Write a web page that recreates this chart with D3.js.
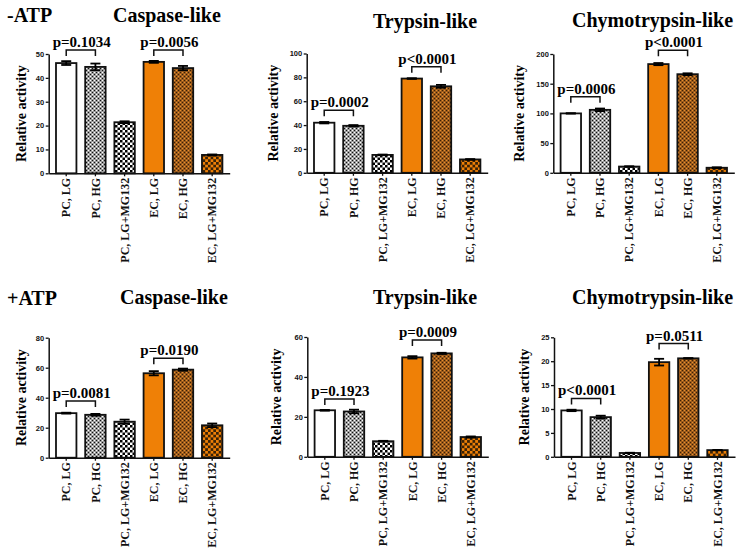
<!DOCTYPE html>
<html><head><meta charset="utf-8">
<script src="https://cdn.jsdelivr.net/npm/d3@7"></script>
<style>body{margin:0;background:#fff}svg{display:block}</style>
</head><body><div id="chart"></div>
<script>
// ---------- data ----------
const categories = ["PC, LG","PC, HG","PC, LG+MG132","EC, LG","EC, HG","EC, LG+MG132"];
const conditionLabels = ["-ATP","+ATP"];
const assayTitles = ["Caspase-like","Trypsin-like","Chymotrypsin-like"];
const yAxisLabel = "Relative activity";

const caspaseMinus    = [46.2, 44.6, 21.4, 46.7, 44.1, 7.7];
const caspaseMinusErr = [0.8, 1.4, 0.4, 0.4, 0.9, 0.2];
const trypsinMinus    = [42.0, 39.4, 15.0, 79.0, 72.5, 11.2];
const trypsinMinusErr = [0.6, 0.6, 0.3, 0.3, 1.2, 0.3];
const chymoMinus      = [100, 106, 10.5, 183, 166, 8.5];
const chymoMinusErr   = [0.2, 2.2, 0.5, 1.8, 1.5, 0.8];
const caspasePlus     = [29.7, 28.6, 24.0, 56.3, 58.7, 21.6];
const caspasePlusErr  = [0.3, 0.6, 1.4, 1.4, 0.7, 1.2];
const trypsinPlus     = [23.3, 22.7, 7.8, 49.8, 51.8, 9.9];
const trypsinPlusErr  = [0.2, 0.9, 0.2, 0.6, 0.3, 0.3];
const chymoPlus       = [9.7, 8.3, 0.8, 19.8, 20.6, 1.4];
const chymoPlusErr    = [0.15, 0.3, 0.05, 0.7, 0.05, 0.05];

const ticksCaspaseMinus = [0,10,20,30,40,50];
const ticksTrypsinMinus = [0,20,40,60,80,100];
const ticksChymoMinus   = [0,50,100,150,200];
const ticksCaspasePlus  = [0,20,40,60,80];
const ticksTrypsinPlus  = [0,20,40,60];
const ticksChymoPlus    = [0,5,10,15,20,25];

// [label, fromIndex, toIndex, bracket level (data units)]
const pCaspaseMinus = [["p=0.1034",0,1,51.7],["p=0.0056",3,4,51.7]];
const pTrypsinMinus = [["p=0.0002",0,1,52.4],["p<0.0001",3,4,88.8]];
const pChymoMinus   = [["p=0.0006",0,1,128],["p<0.0001",3,4,206.5]];
const pCaspasePlus  = [["p=0.0081",0,1,37.8],["p=0.0190",3,4,66.3]];
const pTrypsinPlus  = [["p=0.1923",0,1,28.9],["p=0.0009",3,4,58.5]];
const pChymoPlus    = [["p<0.0001",0,1,12.2],["p=0.0511",3,4,23.7]];

// ---------- layout ----------
const W = 743, H = 554;
const panels = [
  {v:caspaseMinus, e:caspaseMinusErr, t:ticksCaspaseMinus, p:pCaspaseMinus, ax:48.7, top:54, bot:173.3, lab:22.5, title:assayTitles[0], tx:113, ty:21.5},
  {v:trypsinMinus, e:trypsinMinusErr, t:ticksTrypsinMinus, p:pTrypsinMinus, ax:306.7, top:53.5, bot:172.8, lab:29, title:assayTitles[1], tx:373, ty:28},
  {v:chymoMinus,   e:chymoMinusErr,   t:ticksChymoMinus,   p:pChymoMinus,   ax:553.3, top:54, bot:172.8, lab:29, title:assayTitles[2], tx:572, ty:26.5},
  {v:caspasePlus,  e:caspasePlusErr,  t:ticksCaspasePlus,  p:pCaspasePlus,  ax:48.7, top:337.7, bot:457.7, lab:22.5, title:assayTitles[0], tx:120, ty:303.5},
  {v:trypsinPlus,  e:trypsinPlusErr,  t:ticksTrypsinPlus,  p:pTrypsinPlus,  ax:307.3, top:337, bot:456.8, lab:26, title:assayTitles[1], tx:373, ty:303.5},
  {v:chymoPlus,    e:chymoPlusErr,    t:ticksChymoPlus,    p:pChymoPlus,    ax:554, top:337.3, bot:456.8, lab:25, title:assayTitles[2], tx:572, ty:303.5}
];

const serif = "'Liberation Serif','Times New Roman',serif";
const sans = "'Liberation Sans',Arial,sans-serif";
const ORANGE = "#ef8006";

const svg = d3.select("#chart").append("svg").attr("width", W).attr("height", H);
svg.append("rect").attr("width", W).attr("height", H).attr("fill", "#fff");

// patterns
const defs = svg.append("defs");
function pat(id, size, base, squares) {
  const p = defs.append("pattern").attr("id", id).attr("patternUnits", "userSpaceOnUse")
    .attr("width", size).attr("height", size);
  p.append("rect").attr("width", size).attr("height", size).attr("fill", base);
  squares.forEach(s => p.append("rect").attr("x", s[0]).attr("y", s[1]).attr("width", s[2]).attr("height", s[2]).attr("fill", s[3]));
}
pat("pcHG", 4, "#9c9c9c", [[0,0,1,"#111"],[2,2,1,"#111"],[2,0,1,"#fff"],[0,2,1,"#fff"]]);
pat("pcMG", 5, "#fff", [[0,0,2.5,"#000"],[2.5,2.5,2.5,"#000"]]);
pat("ecHG", 4, "#9a5a1c", [[0,0,1,"#3a2005"],[2,2,1,"#3a2005"],[2,0,1,"#e8902e"],[0,2,1,"#e8902e"]]);
pat("ecMG", 5.4, ORANGE, [[0,0,2.7,"#3a2206"],[2.7,2.7,2.7,"#3a2206"]]);
const fills = ["#fff","url(#pcHG)","url(#pcMG)",ORANGE,"url(#ecHG)","url(#ecMG)"];

// row labels
svg.append("text").attr("x", 7).attr("y", 21.5).text(conditionLabels[0])
  .attr("font-family", serif).attr("font-weight", "bold").attr("font-size", 20);
svg.append("text").attr("x", 7).attr("y", 305).text(conditionLabels[1])
  .attr("font-family", serif).attr("font-weight", "bold").attr("font-size", 20);

panels.forEach(P => {
  const g = svg.append("g");
  const ymax = P.t[P.t.length - 1];
  const y = d3.scaleLinear().domain([0, ymax]).range([P.bot, P.top]);
  const x = d3.scaleBand().domain(categories).range([P.ax, P.ax + 181]).paddingInner(0.3).paddingOuter(0.25);

  // title
  g.append("text").attr("x", P.tx).attr("y", P.ty).text(P.title)
    .attr("font-family", serif).attr("font-weight", "bold").attr("font-size", 20);

  // bars
  g.selectAll("rect.bar").data(P.v).join("rect").attr("class", "bar")
    .attr("x", (d, i) => x(categories[i]))
    .attr("width", x.bandwidth())
    .attr("y", d => y(d))
    .attr("height", d => y(0) - y(d))
    .attr("fill", (d, i) => fills[i])
    .attr("stroke", "#111").attr("stroke-width", 1.8);

  // error bars
  const eb = g.append("g").attr("stroke", "#000").attr("stroke-width", 1.8);
  P.v.forEach((d, i) => {
    const cx = x(categories[i]) + x.bandwidth() / 2;
    const hi = y(d + P.e[i]), lo = y(d - P.e[i]);
    eb.append("line").attr("x1", cx).attr("x2", cx).attr("y1", hi).attr("y2", lo);
    eb.append("line").attr("x1", cx - 5).attr("x2", cx + 5).attr("y1", hi).attr("y2", hi);
    eb.append("line").attr("x1", cx - 5).attr("x2", cx + 5).attr("y1", lo).attr("y2", lo);
  });

  // y axis
  const ya = g.append("g").attr("transform", `translate(${P.ax},0)`)
    .call(d3.axisLeft(y).tickValues(P.t).tickSize(3).tickPadding(1.5).tickSizeOuter(0));
  ya.select(".domain").attr("stroke", "#111").attr("stroke-width", 1.5);
  ya.selectAll(".tick line").attr("stroke", "#111").attr("stroke-width", 1.3);
  ya.selectAll(".tick text").attr("font-family", sans).attr("font-weight", "bold")
    .attr("font-size", 7.5).attr("fill", "#111");

  // x axis
  const xa = g.append("g").attr("transform", `translate(0,${P.bot})`)
    .call(d3.axisBottom(x).tickSize(3).tickSizeOuter(0).tickPadding(2));
  xa.select(".domain").attr("stroke", "#111").attr("stroke-width", 1.5);
  xa.selectAll(".tick line").attr("stroke", "#111").attr("stroke-width", 1.3);
  xa.selectAll(".tick text")
    .attr("font-family", serif).attr("font-weight", "bold").attr("font-size", 12).attr("fill", "#111")
    .attr("text-anchor", "end").attr("transform", "rotate(-90)")
    .attr("x", -4.5).attr("y", 0).attr("dy", "0.35em");

  // y label
  const ym = (P.top + P.bot) / 2;
  g.append("text").attr("transform", `translate(${P.ax - P.lab},${ym}) rotate(-90)`)
    .attr("text-anchor", "middle").text(yAxisLabel)
    .attr("font-family", serif).attr("font-weight", "bold").attr("font-size", 14);

  // significance brackets
  P.p.forEach(b => {
    const x1 = x(categories[b[1]]) + x.bandwidth() / 2;
    const x2 = x(categories[b[2]]) + x.bandwidth() / 2;
    const yy = y(b[3]);
    g.append("path").attr("d", `M${x1},${yy + 6}V${yy}H${x2}V${yy + 6}`)
      .attr("fill", "none").attr("stroke", "#111").attr("stroke-width", 1.5);
    g.append("text").attr("x", (x1 + x2) / 2 + 1).attr("y", yy - 3)
      .attr("text-anchor", "middle").text(b[0])
      .attr("font-family", serif).attr("font-weight", "bold").attr("font-size", 15);
  });
});
</script></body></html>
